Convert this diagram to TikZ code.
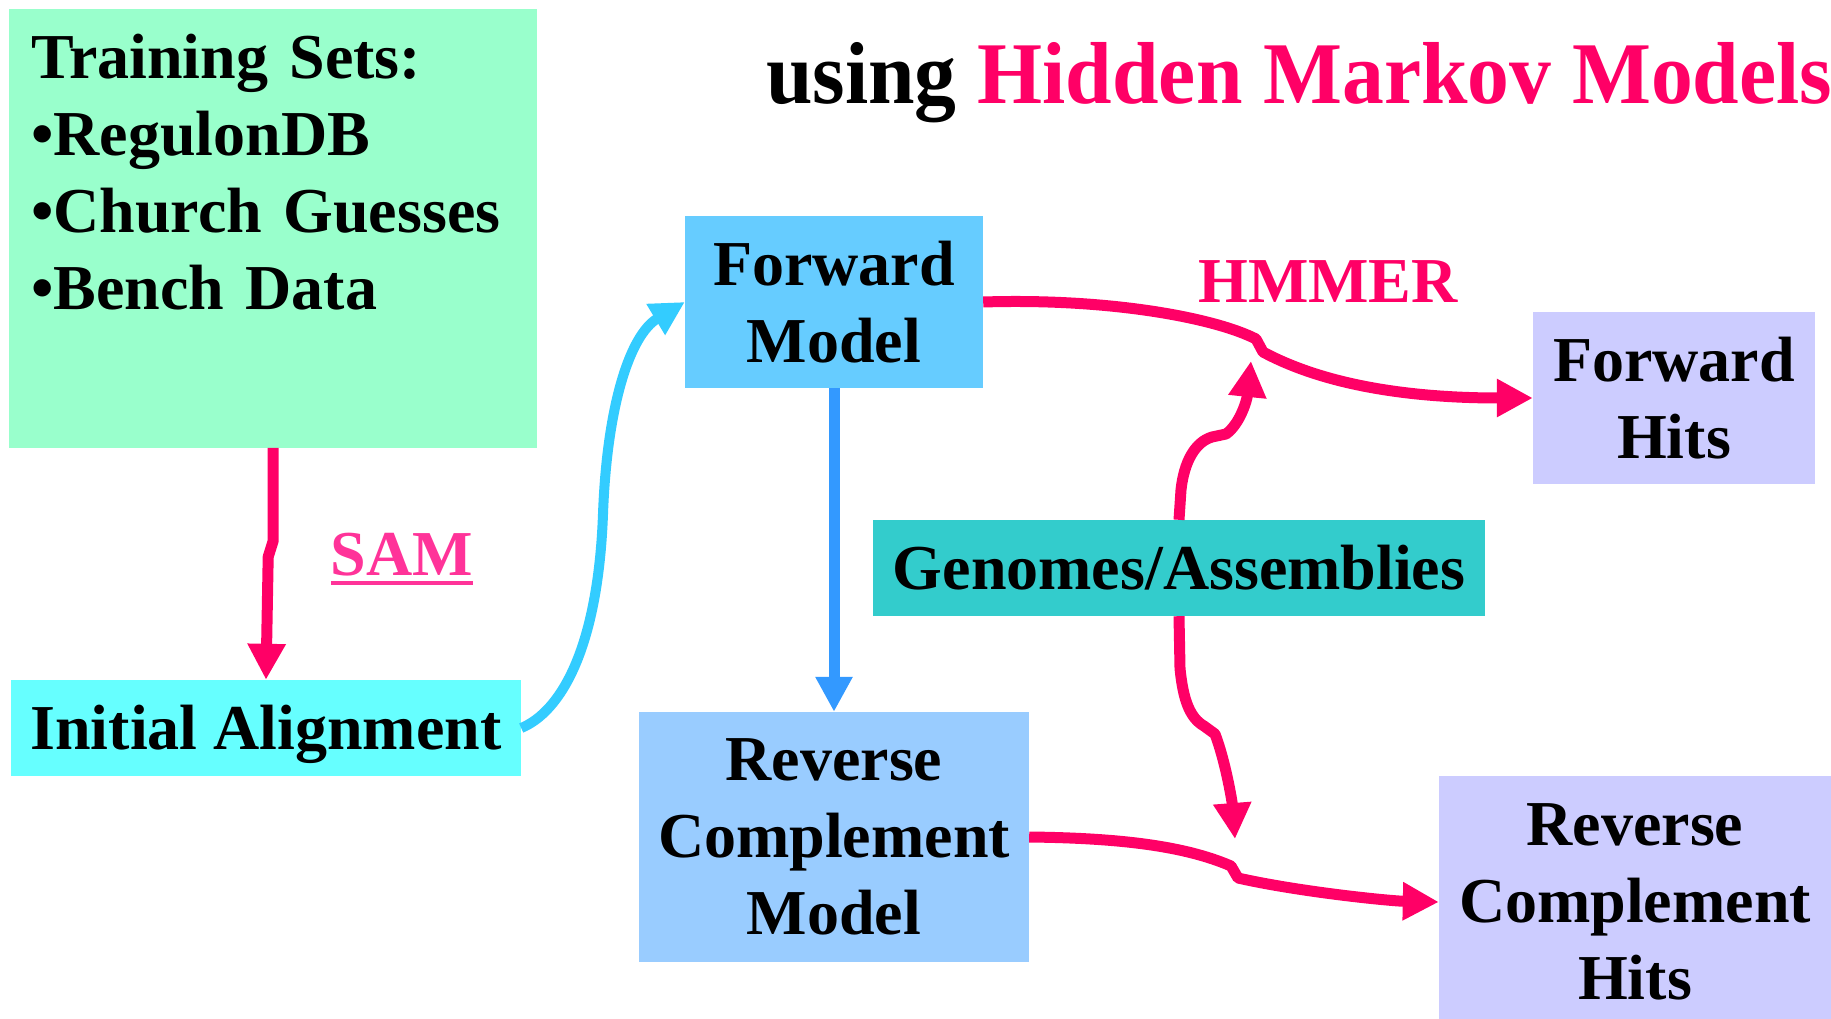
\documentclass[tikz,border=0pt]{standalone}
\usepackage{fontspec}
\setmainfont{Liberation Serif}
\usetikzlibrary{arrows.meta}
\definecolor{trainGreen}{HTML}{99FFCC}
\definecolor{fwdBlue}{HTML}{66CCFF}
\definecolor{revBlue}{HTML}{99CCFF}
\definecolor{alignCyan}{HTML}{66FFFF}
\definecolor{genTeal}{HTML}{33CCCC}
\definecolor{hitLilac}{HTML}{CCCCFF}
\definecolor{hotPink}{HTML}{FF0066}
\definecolor{samPink}{HTML}{FF3399}
\definecolor{skyLine}{HTML}{33CCFF}
\definecolor{downBlue}{HTML}{3399FF}
\begin{document}
\begin{tikzpicture}[x=1pt, y=-1pt, boxStyle/.style={rectangle, inner sep=0pt, align=center, font=\fontsize{64}{77}\selectfont\bfseries}, oneLine/.style={boxStyle, text height=50pt, text depth=8pt}, pinkArrow/.style={draw=hotPink, line width=11pt, line join=round, -{Triangle[length=36pt, width=36pt]}}, skyArrow/.style={draw=skyLine, line width=10pt, -{Triangle[length=34pt, width=34pt]}}, blueArrow/.style={draw=downBlue, line width=11pt, -{Triangle[length=35pt, width=35pt]}}]
                    \path[use as bounding box, fill=white] (0,0) rectangle (1831,1019);

                    \node[boxStyle, fill=trainGreen, align=left, text width=484pt, inner xsep=22pt, inner ysep=25pt, text depth=344pt, anchor=north west] (train_box) at (9,9) {Training Sets:\\•RegulonDB\\•Church Guesses\\•Bench Data};
                    \node[anchor=base west, inner sep=0pt, font=\fontsize{88}{100}\selectfont\bfseries] (title) at (766,104) {\scalebox{0.95}[1]{using \textcolor{hotPink}{Hidden Markov Models}}};

                    \node[oneLine, fill=alignCyan, minimum width=510pt, minimum height=96pt] (align_box) at (266,728) {Initial Alignment};
                    \node[boxStyle, fill=fwdBlue, minimum width=298pt, minimum height=172pt] (fwd_model) at (834,302) {Forward\\Model};
                    \node[boxStyle, fill=revBlue, minimum width=390pt, minimum height=250pt] (rev_model) at (834,837) {Reverse\\Complement\\Model};
                    \node[oneLine, fill=genTeal, minimum width=612pt, minimum height=96pt] (genomes) at (1179,568) {Genomes/Assemblies};
                    \node[boxStyle, fill=hitLilac, minimum width=282pt, minimum height=172pt] (fwd_hits) at (1674,398) {Forward\\Hits};
                    \node[boxStyle, fill=hitLilac, minimum width=392pt, minimum height=252pt] (rev_hits) at (1635,902) {Reverse\\Complement\\Hits};

                    \node[boxStyle, text=samPink, anchor=base] (sam) at (402,575) {\vtop{\hbox{SAM}\kern5pt\hrule height 4pt}};
                    \node[boxStyle, text=hotPink, anchor=base] (hmmer) at (1328,302) {HMMER};

                    \coordinate (fwd_join) at (1251,361);
                    \coordinate (rev_join) at (1235,839);

                    \draw[pinkArrow] (train_box.south) -- ++(0,93) -- ++(-5,16) -- (align_box.north);
                    \draw[skyArrow] (align_box.east) .. controls (560,712) and (598,650) .. (603,514) .. controls (607,405) and (630,335) .. (fwd_model.west);
                    \draw[blueArrow] (fwd_model.south) -- (rev_model.north);
                    \draw[pinkArrow] (fwd_model.east) .. controls (1110,298) and (1215,318) .. (1256,339) -- (1263,352) .. controls (1330,388) and (1420,398) .. (fwd_hits.west);
                    \draw[pinkArrow] (genomes.north) -- ++(2,-30) .. controls (1184,462) and (1195,442) .. (1212,437) -- (1226,434) .. controls (1240,424) and (1247,400) .. (fwd_join);
                    \draw[pinkArrow] (genomes.south) -- ++(1,52) .. controls (1183,700) and (1190,718) .. (1204,726) -- (1215,734) .. controls (1225,760) and (1232,800) .. (rev_join);
                    \draw[pinkArrow] (rev_model.east) .. controls (1120,838) and (1185,846) .. (1231,866) -- (1238,878) .. controls (1300,892) and (1390,901) .. (rev_hits.west);
                \end{tikzpicture}
\end{document}
